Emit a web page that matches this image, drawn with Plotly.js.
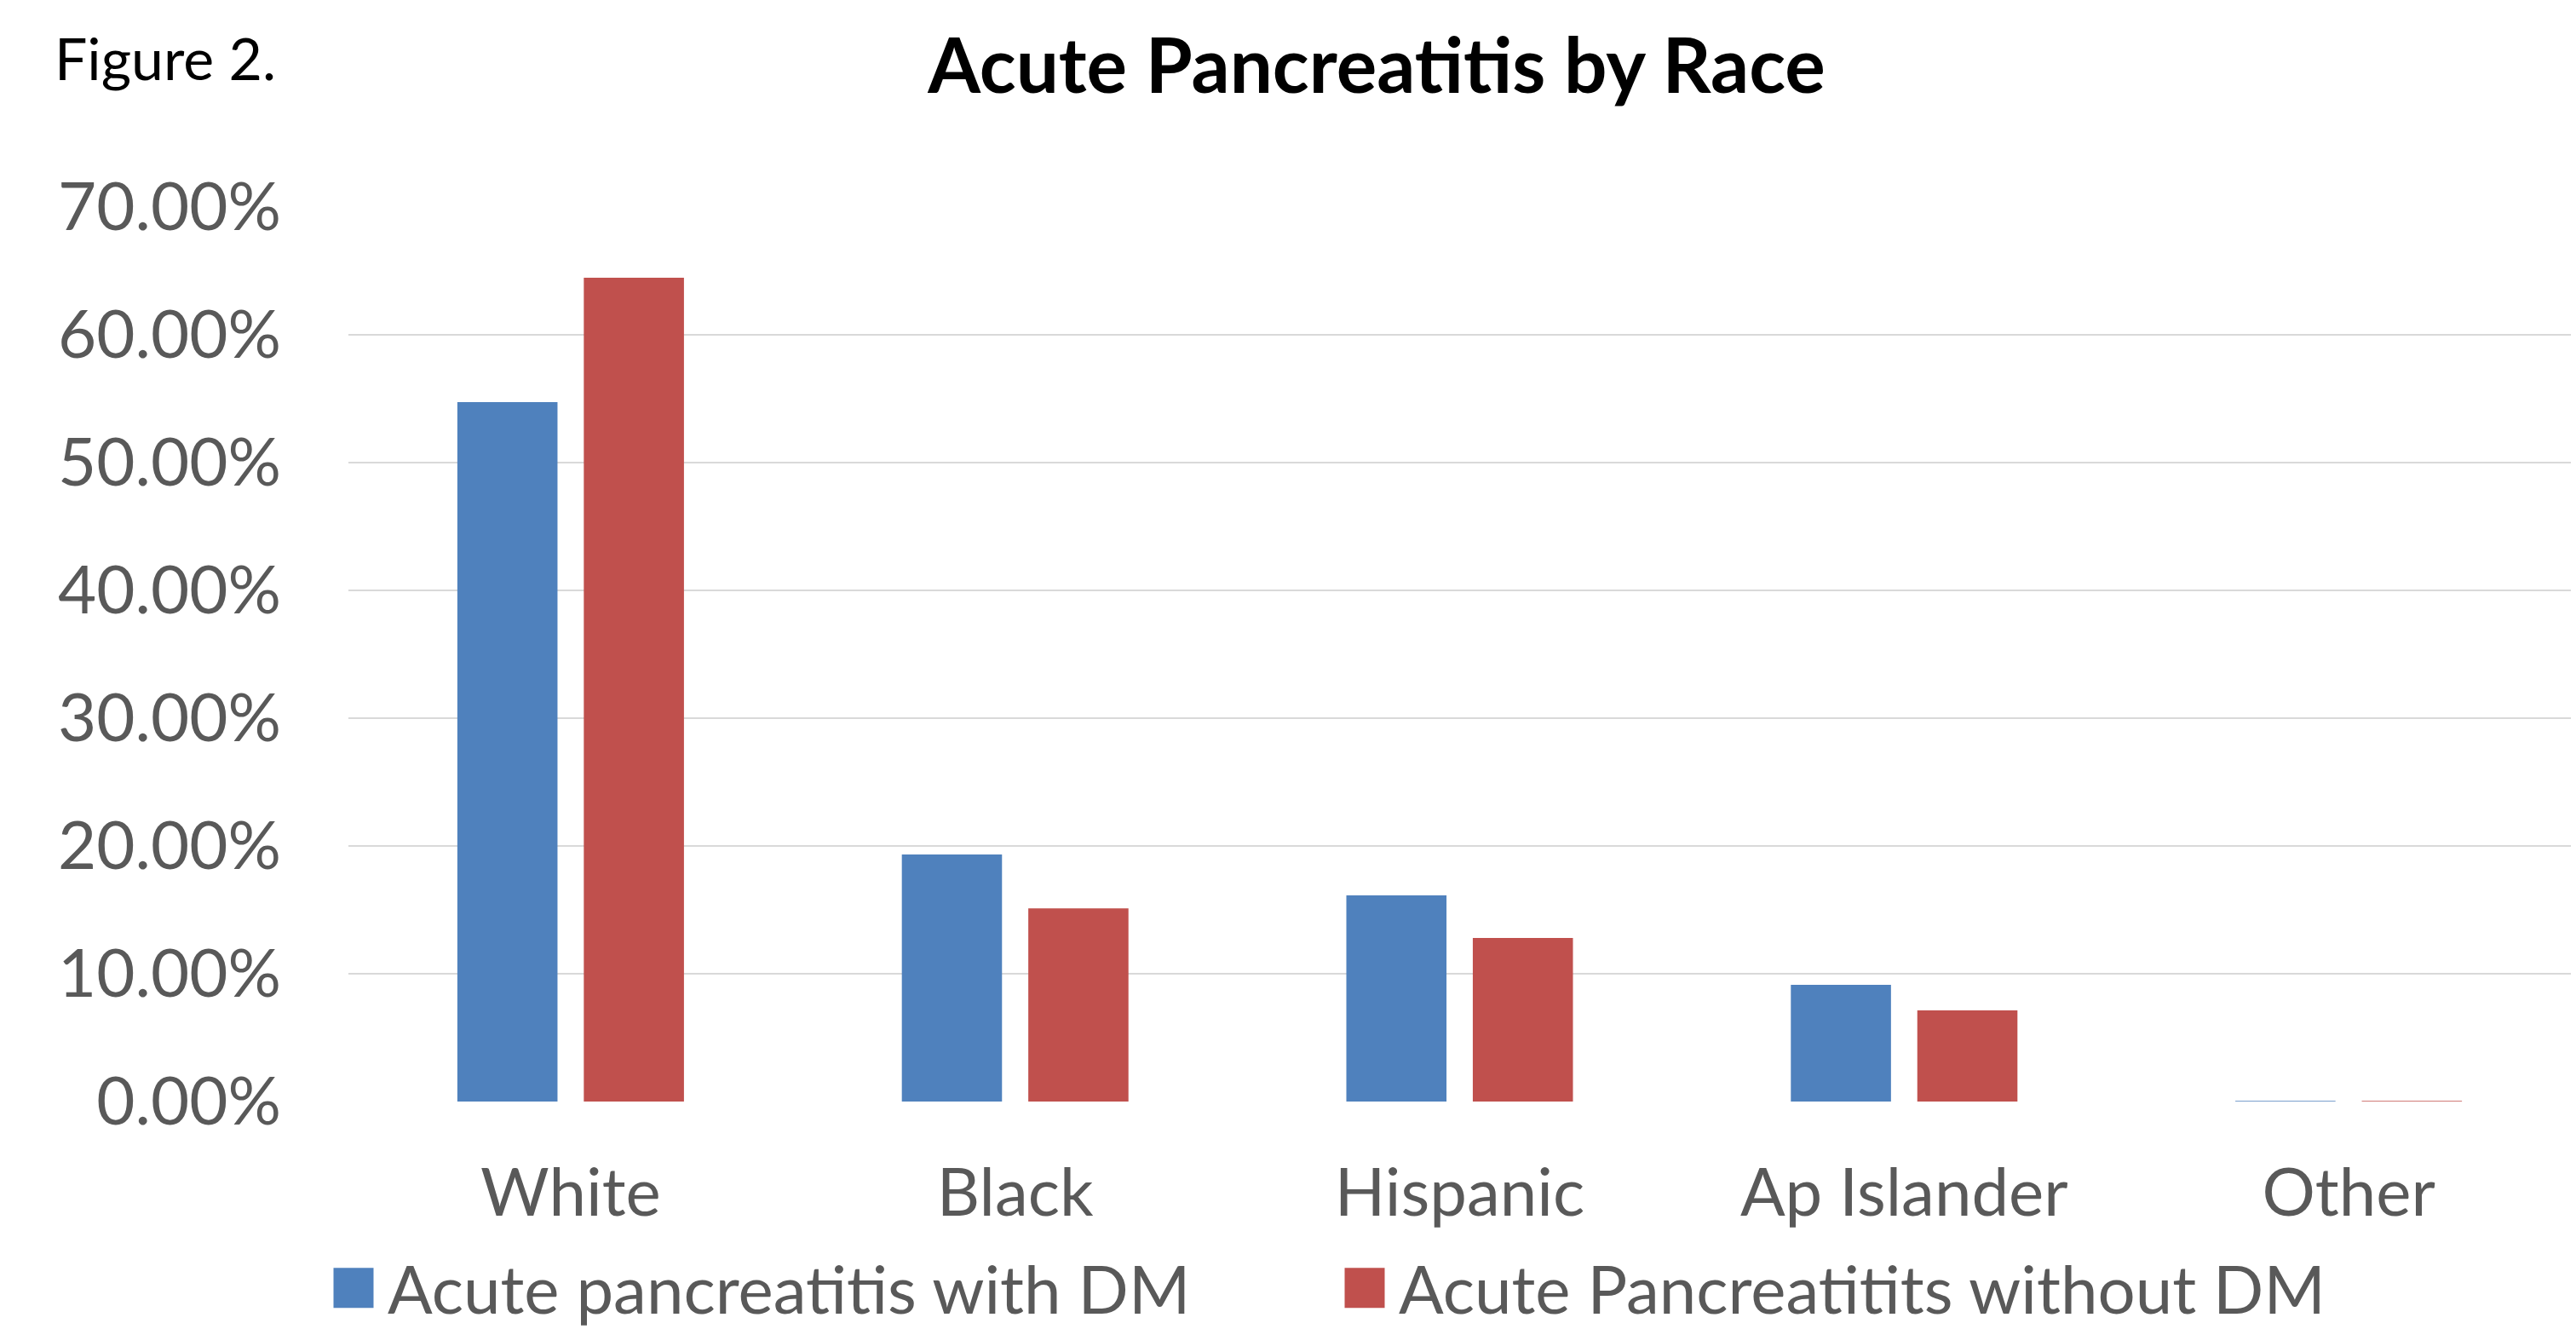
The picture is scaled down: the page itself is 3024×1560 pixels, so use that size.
<!DOCTYPE html>
<html>
<head>
<meta charset="utf-8">
<script src="https://cdn.plot.ly/plotly-3.0.1.min.js"></script>
<style>html,body{margin:0;padding:0;background:#fff;}</style>
</head>
<body>
<div id="chart" style="width:3024px;height:1560px;"></div>
<script>
const categories = ["White", "Black", "Hispanic", "Ap Islander", "Other"];
const withDM = [0.5473, 0.1933, 0.1613, 0.0913, 0.0005];
const withoutDM = [0.6447, 0.1511, 0.1280, 0.0713, 0.0005];
const seriesNames = ["Acute pancreatitis with DM", "Acute Pancreatitits without DM"];
const tickValues = [0, 0.1, 0.2, 0.3, 0.4, 0.5, 0.6, 0.7];
const tickLabels = ["0.00%", "10.00%", "20.00%", "30.00%", "40.00%", "50.00%", "60.00%", "70.00%"];

const FONT = "Lato, 'Open Sans', sans-serif";
const GREY = "#595959";

const traces = [
  {type: "bar", name: seriesNames[0], x: categories, y: withDM,
   marker: {color: "#4F81BD"}, hoverinfo: "none"},
  {type: "bar", name: seriesNames[1], x: categories, y: withoutDM,
   marker: {color: "#C0504D"}, hoverinfo: "none"}
];

const layout = {
  width: 3024, height: 1560,
  paper_bgcolor: "#ffffff", plot_bgcolor: "#ffffff",
  margin: {l: 409, r: 6, t: 243, b: 267, pad: 0},
  font: {family: FONT, color: GREY, size: 78},
  title: {
    text: "<b>Acute Pancreatitis by Race</b>",
    font: {family: FONT, size: 89, color: "#000000"},
    x: 0.5344, xref: "container", xanchor: "center",
    y: 1 - 78/1560, yref: "container", yanchor: "middle"
  },
  barmode: "group",
  bargap: 0.431,
  bargroupgap: 0.208,
  xaxis: {
    type: "category",
    showgrid: false, zeroline: false, showline: false,
    ticks: "", ticklabelstandoff: 55,
    tickfont: {family: FONT, size: 78, color: GREY}
  },
  yaxis: {
    range: [0, 0.7],
    tickvals: tickValues, ticktext: tickLabels,
    showgrid: true, gridcolor: "#D9D9D9", gridwidth: 2,
    zeroline: false, showline: false, ticks: "",
    ticklabelstandoff: 78,
    tickfont: {family: FONT, size: 78, color: GREY}
  },
  showlegend: true,
  legend: {
    orientation: "h",
    xref: "container", yref: "container",
    x: 375/3024, xanchor: "left",
    y: 1 - 1512/1560, yanchor: "middle",
    font: {family: FONT, size: 78, color: GREY},
    entrywidth: 1102, entrywidthmode: "pixels",
    itemwidth: 70,
    bgcolor: "rgba(0,0,0,0)"
  },
  annotations: [{
    text: "Figure 2.", xref: "paper", yref: "paper",
    x: (62 - 409)/2609, y: (1293 - 67)/1050,
    xanchor: "left", yanchor: "middle", showarrow: false,
    font: {family: FONT, size: 68, color: "#000000"}
  }]
};

Plotly.newPlot("chart", traces, layout, {staticPlot: true, displayModeBar: false}).then(function(gd){
  // enlarge legend swatches to match reference squares
  document.querySelectorAll("#chart .legendpoints path").forEach(function(p){
    p.setAttribute("d", "M23.5,23.5H-23.5V-23.5H23.5Z");
  });
});
</script>
</body>
</html>
